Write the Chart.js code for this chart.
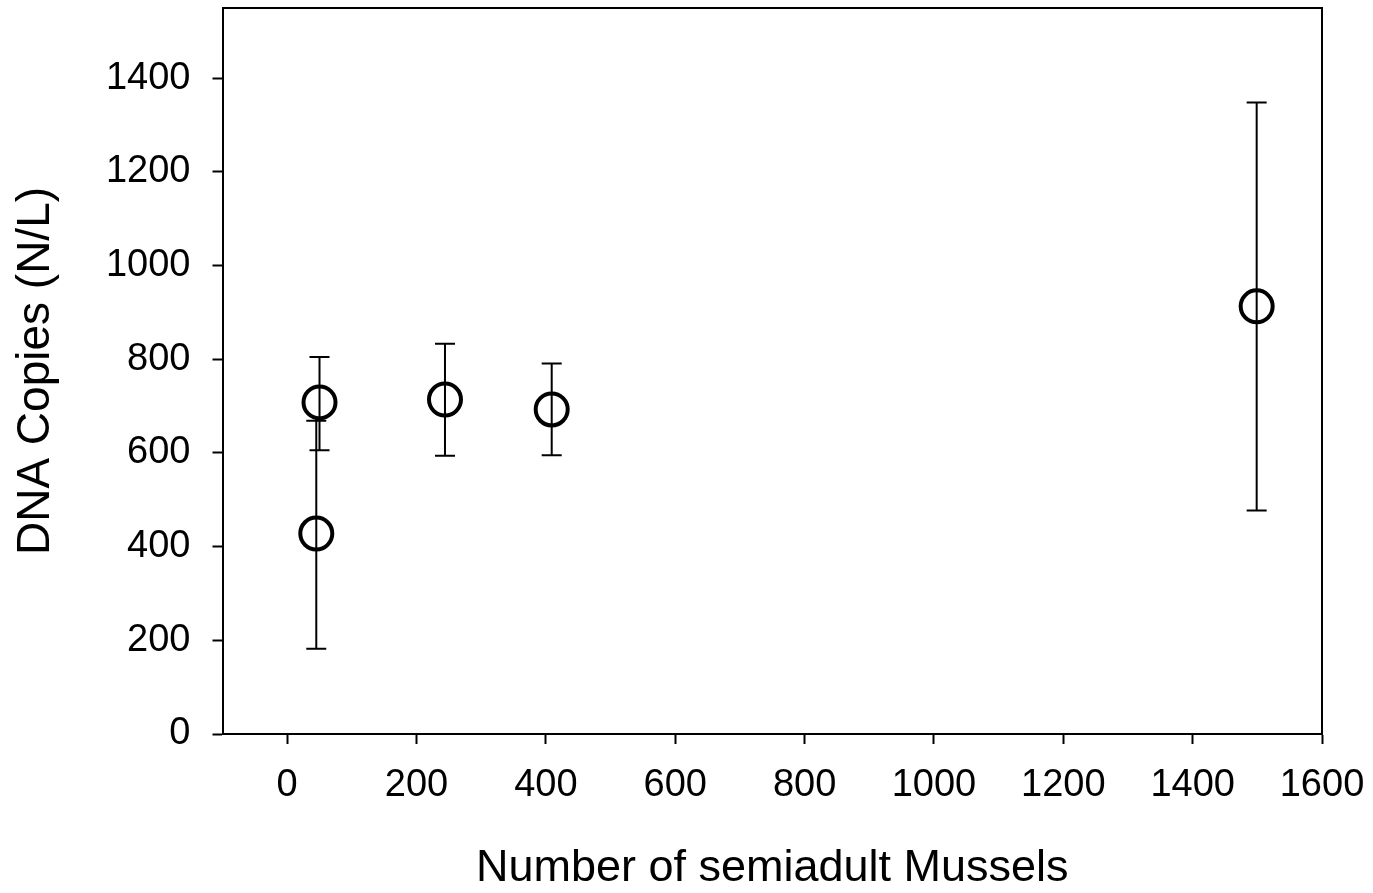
<!DOCTYPE html>
<html>
<head>
<meta charset="utf-8">
<script src="https://cdn.jsdelivr.net/npm/chart.js@4/dist/chart.umd.min.js"></script>
<style>
    html, body { margin: 0; padding: 0; background: #fff; }
    #wrap { width: 1373px; height: 893px; }
</style>
</head>
<body>
<div id="wrap"><canvas id="chart" width="1373" height="893"></canvas></div>
<script>
// Mussel counts and DNA copies
const mussels = [50, 45, 244, 409, 1499];
const dnaCopies = [708, 428, 714, 693, 913];
const errUpper = [805, 669, 833, 791, 1348];
const errLower = [606, 182, 594, 595, 477];

const xTicks = [0, 200, 400, 600, 800, 1000, 1200, 1400, 1600];
const yTicks = [0, 200, 400, 600, 800, 1000, 1200, 1400];

const points = mussels.map((x, i) => ({ x: x, y: dnaCopies[i] }));

// Draws the vertical error bars with caps
const errorBars = {
    id: 'errorBars',
    afterDatasetsDraw(chart) {
        const ctx = chart.ctx;
        const xs = chart.scales.x, ys = chart.scales.y;
        ctx.save();
        ctx.strokeStyle = '#000';
        ctx.lineWidth = 2;
        mussels.forEach((m, i) => {
            const px = xs.getPixelForValue(m);
            const top = ys.getPixelForValue(errUpper[i]);
            const bot = ys.getPixelForValue(errLower[i]);
            ctx.beginPath();
            ctx.moveTo(px, top); ctx.lineTo(px, bot);
            ctx.moveTo(px - 10, top); ctx.lineTo(px + 10, top);
            ctx.moveTo(px - 10, bot); ctx.lineTo(px + 10, bot);
            ctx.stroke();
        });
        ctx.restore();
    }
};

// Top and right edges of the frame
const frame = {
    id: 'frame',
    afterDraw(chart) {
        const a = chart.chartArea, ctx = chart.ctx;
        ctx.save();
        ctx.strokeStyle = '#000';
        ctx.lineWidth = 2;
        ctx.beginPath();
        ctx.moveTo(a.left, a.top); ctx.lineTo(a.right, a.top); ctx.lineTo(a.right, a.bottom);
        ctx.stroke();
        ctx.restore();
    }
};

const tickFont = { family: 'Liberation Sans, Arial, sans-serif', size: 38 };
const xTitleFont = { family: 'Liberation Sans, Arial, sans-serif', size: 45, lineHeight: 1 };
const yTitleFont = { family: 'Liberation Sans, Arial, sans-serif', size: 46, lineHeight: 1 };

function zeroPad(s) {
    s.paddingLeft = 0; s.paddingRight = 0; s.paddingTop = 0; s.paddingBottom = 0;
}

new Chart(document.getElementById('chart').getContext('2d'), {
    type: 'scatter',
    data: {
        datasets: [{
            data: points,
            pointStyle: 'circle',
            pointRadius: 16,
            pointHoverRadius: 16,
            pointBorderWidth: 4,
            pointBorderColor: '#000',
            pointBackgroundColor: 'rgba(0,0,0,0)'
        }]
    },
    options: {
        responsive: false,
        animation: false,
        events: [],
        layout: { autoPadding: false, padding: { left: 0, right: 51, top: 8, bottom: 0 } },
        plugins: { legend: { display: false }, tooltip: { enabled: false } },
        scales: {
            x: {
                type: 'linear',
                min: -100,
                max: 1600,
                afterBuildTicks: s => { s.ticks = xTicks.map(v => ({ value: v })); },
                afterFit: s => { s.height = 159; zeroPad(s); },
                border: { display: true, color: '#000', width: 2 },
                grid: { drawOnChartArea: false, drawTicks: true, tickLength: 10, tickColor: '#000', tickWidth: 2 },
                ticks: { color: '#000', font: tickFont, padding: 19, maxRotation: 0, callback: v => String(v) },
                title: { display: true, text: 'Number of semiadult Mussels', color: '#000', font: xTitleFont, padding: { top: 0, bottom: 2 } }
            },
            y: {
                type: 'linear',
                min: 0,
                max: 1550,
                afterBuildTicks: s => { s.ticks = yTicks.map(v => ({ value: v })); },
                afterFit: s => { s.width = 222.5; zeroPad(s); },
                border: { display: true, color: '#000', width: 2 },
                grid: { drawOnChartArea: false, drawTicks: true, tickLength: 10, tickColor: '#000', tickWidth: 2 },
                ticks: { color: '#000', font: tickFont, padding: 22, callback: v => String(v) },
                title: { display: true, text: 'DNA Copies (N/L)', color: '#000', font: yTitleFont, padding: { top: 13, bottom: 13 } }
            }
        }
    },
    plugins: [errorBars, frame]
});
</script>
</body>
</html>
